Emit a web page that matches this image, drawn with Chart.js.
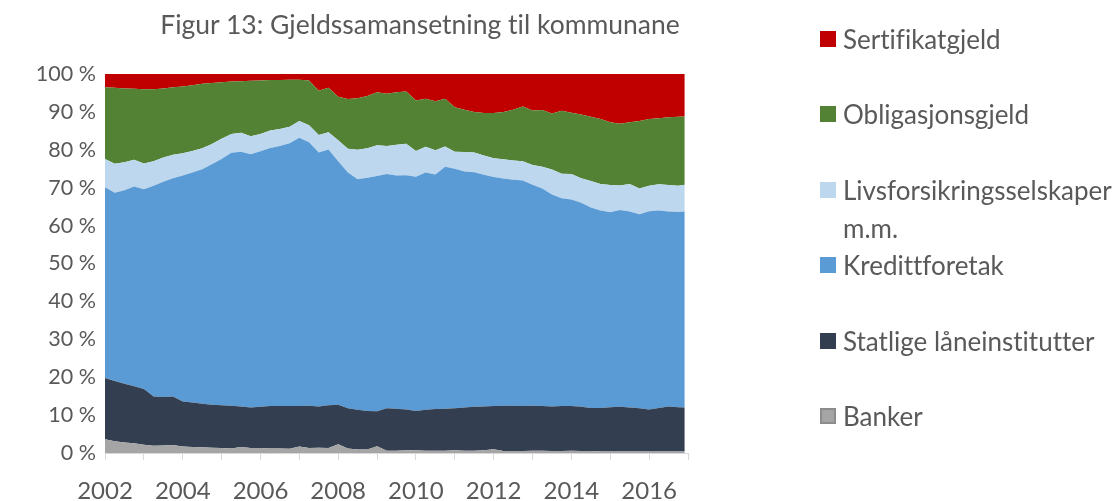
<!DOCTYPE html>
<html>
<head>
<meta charset="utf-8">
<script src="https://cdn.jsdelivr.net/npm/chart.js@4.4.0/dist/chart.umd.min.js"></script>
<style>
  body { margin: 0; background: #fff; font-family: Lato, sans-serif; color: #595959; font-variant-ligatures: none; }
  #wrap { position: relative; width: 1115px; height: 501px; overflow: hidden; }
  #chart { position: absolute; left: 0; top: 0; }
  .title { position: absolute; left: 0; width: 840px; top: 8px; text-align: center; font-size: 26.5px; line-height: 32px; }
  .legend { position: absolute; left: 820px; top: 0; font-size: 26px; }
  .item { position: absolute; left: 0; white-space: nowrap; line-height: 38px; }
  .box { position: absolute; left: 0; top: 11px; width: 16px; height: 16px; box-sizing: border-box; }
  .txt { position: absolute; left: 23px; top: 0; }
</style>
</head>
<body>
<div id="wrap">
  <canvas id="chart" width="1115" height="501"></canvas>
  <div class="title">Figur 13: Gjeldssamansetning til kommunane</div>
  <div class="legend" id="legend"></div>
</div>
<script>
// shares in % per quarter, 2002 Q1 .. 2016 Q4, last point Dec 2016
const banker = [3.6, 3.1, 2.8, 2.6, 2.2, 1.9, 2.0, 2.1, 1.7, 1.6, 1.5, 1.4, 1.3, 1.2, 1.6, 1.3, 1.3, 1.2, 1.2, 1.1,
  1.7, 1.3, 1.4, 1.3, 2.3, 1.2, 0.9, 0.9, 1.8, 0.6, 0.6, 0.7, 0.7, 0.6, 0.6, 0.6, 0.7, 0.6, 0.6, 0.7,
  1.0, 0.5, 0.5, 0.5, 0.6, 0.6, 0.5, 0.5, 0.6, 0.5, 0.5, 0.4, 0.4, 0.4, 0.4, 0.4, 0.4, 0.4, 0.4, 0.4, 0.4];
const statlige = [16.2, 15.9, 15.5, 15.0, 14.7, 13.0, 12.8, 12.8, 11.9, 11.7, 11.5, 11.3, 11.3, 11.3, 10.7, 10.7, 10.9, 11.2, 11.2, 11.3,
  10.7, 11.2, 10.9, 11.3, 10.4, 10.6, 10.5, 10.2, 9.2, 11.2, 11.1, 10.8, 10.4, 10.8, 11.0, 11.1, 11.1, 11.4, 11.6, 11.6,
  11.4, 12.0, 12.0, 11.9, 11.9, 11.8, 11.8, 11.9, 11.8, 11.7, 11.4, 11.5, 11.7, 11.8, 11.6, 11.4, 11.1, 11.5, 11.9, 11.7, 11.6];
const kreditt = [50.3, 49.7, 51.0, 52.7, 52.7, 55.6, 56.8, 57.6, 59.6, 60.7, 61.9, 63.5, 65.0, 66.7, 67.2, 66.8, 67.4, 68.1, 68.6, 69.3,
  70.8, 69.5, 67.0, 67.5, 64.3, 62.2, 60.8, 61.5, 62.1, 61.8, 61.5, 61.8, 61.8, 62.6, 61.9, 63.8, 63.2, 62.3, 61.9, 61.1,
  60.4, 59.9, 59.6, 59.5, 58.3, 57.4, 55.9, 54.8, 54.5, 53.8, 52.9, 52.1, 51.4, 51.9, 51.7, 51.2, 52.3, 52.1, 51.4, 51.5, 51.7];
const livs = [7.5, 7.6, 7.4, 7.1, 6.8, 6.5, 6.4, 6.2, 5.9, 5.7, 5.5, 5.3, 5.3, 5.0, 5.0, 4.8, 4.6, 4.6, 4.5, 4.4,
  4.4, 4.5, 4.6, 4.5, 5.5, 6.3, 7.8, 7.8, 8.1, 7.4, 8.1, 8.3, 6.8, 6.8, 6.4, 5.4, 4.5, 5.1, 5.2, 5.1,
  5.0, 5.1, 5.1, 5.1, 5.2, 5.7, 6.6, 6.5, 6.7, 6.5, 7.0, 7.0, 7.2, 6.5, 7.3, 6.8, 6.7, 6.9, 7.0, 6.9, 7.1];
const obligasjon = [18.9, 20.1, 19.5, 18.7, 19.6, 19.0, 18.2, 17.8, 17.6, 17.3, 17.0, 16.1, 14.9, 13.8, 13.6, 14.6, 14.1, 13.3, 12.9, 12.4,
  10.9, 11.8, 11.7, 11.8, 11.5, 13.1, 13.6, 13.8, 14.0, 13.8, 13.9, 13.8, 13.3, 12.7, 12.9, 12.6, 11.7, 11.2, 10.7, 11.2,
  11.9, 12.5, 13.4, 14.4, 14.4, 15.0, 14.8, 16.6, 16.2, 16.8, 16.9, 17.1, 16.6, 16.3, 16.3, 17.8, 17.6, 17.4, 17.9, 18.2, 18.0];
const sertifikat = [3.5, 3.6, 3.8, 3.9, 4.0, 4.0, 3.8, 3.5, 3.3, 3.0, 2.6, 2.4, 2.2, 2.0, 1.9, 1.8, 1.7, 1.6, 1.6, 1.5,
  1.5, 1.7, 4.4, 3.6, 6.0, 6.6, 6.4, 5.8, 4.8, 5.2, 4.8, 4.6, 7.0, 6.5, 7.2, 6.5, 8.8, 9.4, 10.0, 10.3,
  10.3, 10.0, 9.4, 8.6, 9.6, 9.5, 10.4, 9.7, 10.2, 10.7, 11.3, 11.9, 12.7, 13.1, 12.7, 12.4, 11.9, 11.7, 11.4, 11.3, 11.2];

const names = ['Banker', 'Statlige låneinstitutter', 'Kredittforetak', 'Livsforsikringsselskaper m.m.', 'Obligasjonsgjeld', 'Sertifikatgjeld'];
const colors = ['#A5A5A5', '#333F50', '#5B9BD5', '#BDD7EE', '#548235', '#C00000'];
const yTicks = [0, 10, 20, 30, 40, 50, 60, 70, 80, 90, 100];
const xLabelYears = [2002, 2004, 2006, 2008, 2010, 2012, 2014, 2016];

// time position of each point (quarters, last one is December 2016)
const times = banker.map((_, i) => (i < 60 ? 2002 + i / 4 : 2016 + 11 / 12));

const series = [banker, statlige, kreditt, livs, obligasjon, sertifikat];
const datasets = series.map((vals, i) => ({
  label: names[i],
  data: vals.map((v, j) => ({ x: times[j], y: v })),
  backgroundColor: colors[i],
  borderColor: 'rgba(0,0,0,0)',
  borderWidth: 0,
  pointRadius: 0,
  tension: 0,
  fill: i === 0 ? 'origin' : '-1',
}));

new Chart(document.getElementById('chart').getContext('2d'), {
  type: 'line',
  data: { datasets },
  options: {
    responsive: false,
    animation: false,
    events: [],
    layout: { padding: { left: 0, right: 427, top: 74, bottom: 0 } },
    plugins: { legend: { display: false }, tooltip: { enabled: false } },
    scales: {
      x: {
        type: 'linear',
        min: 2002,
        max: 2017,
        grid: { drawOnChartArea: false, drawTicks: true, tickLength: 7, color: '#D9D9D9' },
        border: { display: true, color: '#D9D9D9' },
        ticks: {
          stepSize: 1,
          autoSkip: false,
          maxRotation: 0,
          padding: 17,
          color: '#595959',
          font: { family: 'Lato', size: 24 },
          callback: (v) => (xLabelYears.includes(v) ? String(v) : ''),
        },
        afterFit: (s) => { s.height = 48; },
      },
      y: {
        stacked: true,
        min: 0,
        max: 100,
        grid: { display: false, drawTicks: false },
        border: { display: false },
        afterBuildTicks: (s) => { s.ticks = yTicks.map((v) => ({ value: v })); },
        ticks: {
          padding: 9,
          color: '#595959',
          font: { family: 'Lato', size: 21.5 },
          callback: (v) => v + ' %',
        },
        afterFit: (s) => { s.width = 105; },
      },
    },
  },
});

// legend, top to bottom in reverse stacking order
const legendRows = [0, 2, 4, 6, 8, 10];
const legendEl = document.getElementById('legend');
for (let k = 0; k < 6; k++) {
  const i = 5 - k;
  const item = document.createElement('div');
  item.className = 'item';
  item.style.top = (20 + legendRows[k] * 37.7) + 'px';
  const box = document.createElement('div');
  box.className = 'box';
  box.style.background = colors[i];
  if (i === 0) box.style.border = '2px solid #8C8C8C';
  const txt = document.createElement('div');
  txt.className = 'txt';
  txt.innerHTML = names[i].replace(' m.m.', '<br>m.m.');
  item.appendChild(box);
  item.appendChild(txt);
  legendEl.appendChild(item);
}
</script>
</body>
</html>
